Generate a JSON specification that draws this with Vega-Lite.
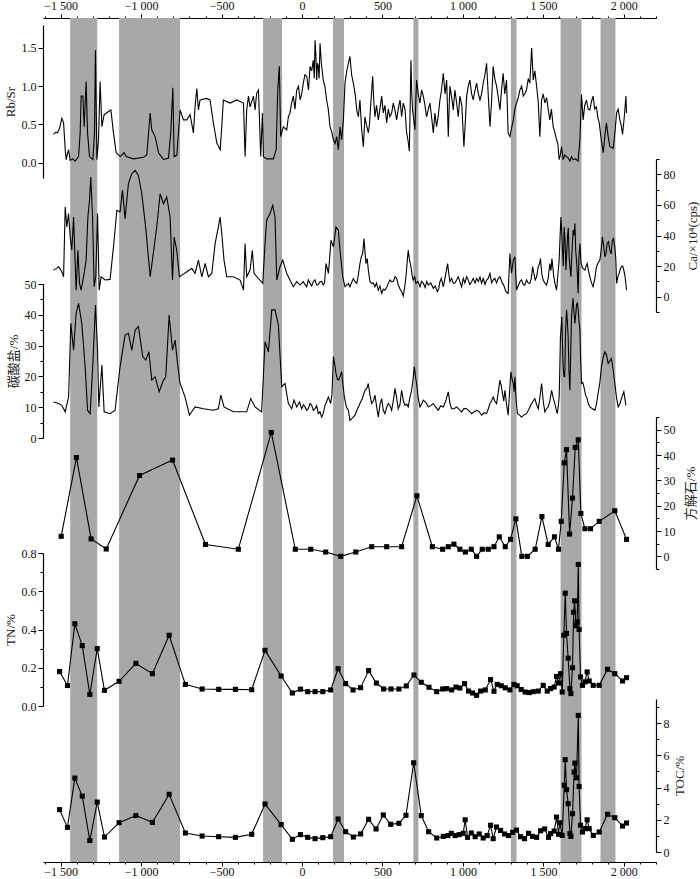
{
"$schema": "https://vega.github.io/schema/vega-lite/v6.json",
"width": 613, "height": 844,
"autosize": {"type": "none"},
"padding": {"left": 43, "top": 18, "right": 44, "bottom": 17},
"background": "white",
"config": {
 "view": {"stroke": null},
 "axis": {"grid": false, "domainColor": "#000", "domainWidth": 1.2, "tickColor": "#000", "labelColor": "#111", "labelFont": "Liberation Serif", "labelFontSize": 12, "titleFont": "Liberation Serif, Noto Sans CJK SC", "titleFontWeight": "normal", "titleFontSize": 13, "titleColor": "#222", "labelOverlap": false, "labelFlush": false}
},
"datasets": {
 "bands": [{"year":-1441,"end":-1273},{"year":-1137,"end":-758},{"year":-242,"end":-124},{"year":193,"end":261},{"year":692,"end":723},{"year":1298,"end":1333},{"year":1607,"end":1737},{"year":1855,"end":1948}],
 "f": [{"year":-1545,"v":0.37},{"year":-1530,"v":0.4},{"year":-1520,"v":0.39},{"year":-1507,"v":0.45},{"year":-1493,"v":0.58},{"year":-1482,"v":0.52},{"year":-1472,"v":0.17},{"year":-1466,"v":0.04},{"year":-1458,"v":0.12},{"year":-1451,"v":0.17},{"year":-1441,"v":0.03},{"year":-1425,"v":0.05},{"year":-1410,"v":0.02},{"year":-1389,"v":0.08},{"year":-1379,"v":0.39},{"year":-1373,"v":0.87},{"year":-1362,"v":0.87},{"year":-1354,"v":0.47},{"year":-1342,"v":1.06},{"year":-1333,"v":0.39},{"year":-1321,"v":0.08},{"year":-1300,"v":0.04},{"year":-1290,"v":0.39},{"year":-1284,"v":1.47},{"year":-1275,"v":0.04},{"year":-1265,"v":0.3},{"year":-1255,"v":1.06},{"year":-1244,"v":0.47},{"year":-1230,"v":0.63},{"year":-1203,"v":0.67},{"year":-1188,"v":0.69},{"year":-1172,"v":0.39},{"year":-1155,"v":0.13},{"year":-1130,"v":0.08},{"year":-1106,"v":0.13},{"year":-1093,"v":0.08},{"year":-1048,"v":0.05},{"year":-986,"v":0.07},{"year":-965,"v":0.1},{"year":-944,"v":0.65},{"year":-934,"v":0.43},{"year":-913,"v":0.34},{"year":-892,"v":0.13},{"year":-861,"v":0.04},{"year":-830,"v":0.06},{"year":-816,"v":0.39},{"year":-803,"v":0.98},{"year":-795,"v":0.08},{"year":-778,"v":0.1},{"year":-758,"v":0.69},{"year":-737,"v":0.56},{"year":-716,"v":0.56},{"year":-696,"v":0.63},{"year":-675,"v":0.39},{"year":-665,"v":0.73},{"year":-654,"v":0.97},{"year":-644,"v":0.69},{"year":-634,"v":0.82},{"year":-592,"v":0.84},{"year":-572,"v":0.82},{"year":-551,"v":0.52},{"year":-530,"v":0.26},{"year":-509,"v":0.17},{"year":-499,"v":0.47},{"year":-489,"v":0.82},{"year":-447,"v":0.78},{"year":-406,"v":0.82},{"year":-364,"v":0.78},{"year":-354,"v":0.08},{"year":-344,"v":0.69},{"year":-333,"v":0.87},{"year":-323,"v":0.73},{"year":-302,"v":0.87},{"year":-292,"v":0.69},{"year":-282,"v":0.91},{"year":-271,"v":0.95},{"year":-265,"v":0.6},{"year":-257,"v":0.08},{"year":-246,"v":0.65},{"year":-240,"v":0.08},{"year":-219,"v":0.05},{"year":-178,"v":0.05},{"year":-161,"v":0.17},{"year":-151,"v":0.95},{"year":-141,"v":1.26},{"year":-133,"v":0.34},{"year":-116,"v":0.47},{"year":-95,"v":0.43},{"year":-75,"v":0.65},{"year":-54,"v":0.87},{"year":-33,"v":0.95},{"year":-12,"v":0.82},{"year":8,"v":1.04},{"year":29,"v":1.13},{"year":50,"v":1.26},{"year":70,"v":1.34},{"year":81,"v":1.6},{"year":91,"v":1.08},{"year":101,"v":1.26},{"year":112,"v":1.56},{"year":132,"v":1.08},{"year":153,"v":0.82},{"year":174,"v":0.47},{"year":195,"v":0.3},{"year":215,"v":0.34},{"year":226,"v":0.17},{"year":236,"v":0.47},{"year":257,"v":0.56},{"year":267,"v":1.04},{"year":288,"v":1.3},{"year":298,"v":1.39},{"year":319,"v":1.04},{"year":340,"v":0.69},{"year":360,"v":0.82},{"year":381,"v":0.21},{"year":391,"v":0.6},{"year":412,"v":0.39},{"year":426,"v":0.73},{"year":439,"v":1.13},{"year":453,"v":0.6},{"year":474,"v":0.56},{"year":495,"v":0.87},{"year":505,"v":0.65},{"year":526,"v":0.52},{"year":546,"v":0.6},{"year":567,"v":0.78},{"year":588,"v":0.56},{"year":609,"v":0.82},{"year":629,"v":0.78},{"year":650,"v":0.39},{"year":667,"v":0.15},{"year":677,"v":1.34},{"year":687,"v":0.69},{"year":702,"v":0.43},{"year":712,"v":1.08},{"year":733,"v":0.78},{"year":754,"v":0.87},{"year":774,"v":0.6},{"year":795,"v":0.78},{"year":816,"v":0.39},{"year":836,"v":0.47},{"year":857,"v":0.82},{"year":878,"v":1.17},{"year":899,"v":1.08},{"year":909,"v":0.34},{"year":919,"v":1.0},{"year":940,"v":0.69},{"year":961,"v":0.78},{"year":981,"v":0.87},{"year":1006,"v":0.21},{"year":1023,"v":0.87},{"year":1043,"v":1.08},{"year":1064,"v":0.82},{"year":1085,"v":1.04},{"year":1106,"v":0.82},{"year":1126,"v":1.04},{"year":1147,"v":1.3},{"year":1168,"v":0.47},{"year":1188,"v":1.26},{"year":1209,"v":1.0},{"year":1230,"v":0.69},{"year":1250,"v":1.17},{"year":1271,"v":1.08},{"year":1281,"v":0.39},{"year":1292,"v":0.34},{"year":1313,"v":0.56},{"year":1333,"v":0.78},{"year":1354,"v":0.95},{"year":1375,"v":0.87},{"year":1395,"v":0.95},{"year":1416,"v":1.04},{"year":1427,"v":1.5},{"year":1437,"v":1.08},{"year":1458,"v":1.0},{"year":1478,"v":0.34},{"year":1489,"v":0.82},{"year":1509,"v":0.78},{"year":1540,"v":0.56},{"year":1561,"v":0.47},{"year":1582,"v":0.3},{"year":1598,"v":0.04},{"year":1613,"v":0.21},{"year":1623,"v":0.04},{"year":1644,"v":0.08},{"year":1665,"v":0.02},{"year":1685,"v":0.04},{"year":1716,"v":0.02},{"year":1727,"v":0.3},{"year":1737,"v":0.89},{"year":1747,"v":0.56},{"year":1768,"v":0.82},{"year":1789,"v":0.69},{"year":1809,"v":0.87},{"year":1830,"v":0.73},{"year":1847,"v":0.52},{"year":1872,"v":0.13},{"year":1892,"v":0.52},{"year":1913,"v":0.21},{"year":1934,"v":0.19},{"year":1955,"v":0.65},{"year":1975,"v":0.56},{"year":1992,"v":0.37},{"year":2013,"v":0.87},{"year":2017,"v":0.65},
 {"year":-85,"v":0.6},{"year":-65,"v":0.78},{"year":-44,"v":0.7},{"year":-22,"v":1.0},{"year":-2,"v":0.9},{"year":18,"v":1.15},{"year":40,"v":0.95},{"year":60,"v":1.2},{"year":76,"v":1.1},{"year":86,"v":1.4},{"year":96,"v":1.3},{"year":106,"v":1.1},{"year":120,"v":1.3},{"year":142,"v":1.0},{"year":163,"v":0.7},{"year":185,"v":0.4},{"year":205,"v":0.25},{"year":246,"v":0.3},{"year":278,"v":1.2},{"year":308,"v":1.15},{"year":330,"v":0.9},{"year":350,"v":0.6},{"year":370,"v":0.45},{"year":400,"v":0.5},{"year":419,"v":0.5},{"year":446,"v":0.8},{"year":463,"v":0.75},{"year":484,"v":0.7},{"year":515,"v":0.75},{"year":536,"v":0.7},{"year":557,"v":0.65},{"year":578,"v":0.68},{"year":598,"v":0.7},{"year":619,"v":0.6},{"year":640,"v":0.7},{"year":658,"v":0.3},{"year":682,"v":0.9},{"year":695,"v":0.55},{"year":707,"v":0.8},{"year":722,"v":0.9},{"year":743,"v":0.95},{"year":764,"v":0.75},{"year":785,"v":0.7},{"year":805,"v":0.6},{"year":826,"v":0.65},{"year":846,"v":0.6},{"year":867,"v":0.95},{"year":889,"v":0.9},{"year":914,"v":0.7},{"year":930,"v":0.85},{"year":950,"v":0.95},{"year":971,"v":0.6},{"year":993,"v":0.75},{"year":1014,"v":0.5},{"year":1033,"v":1.0},{"year":1054,"v":0.9},{"year":1075,"v":0.95},{"year":1096,"v":0.9},{"year":1116,"v":0.9},{"year":1137,"v":1.15},{"year":1157,"v":0.9},{"year":1178,"v":0.8},{"year":1198,"v":1.1},{"year":1220,"v":0.85},{"year":1240,"v":0.95},{"year":1260,"v":0.9},{"year":1302,"v":0.45},{"year":1323,"v":0.7},{"year":1344,"v":0.85},{"year":1365,"v":1.0},{"year":1385,"v":0.9},{"year":1406,"v":1.1},{"year":1447,"v":1.2},{"year":1468,"v":0.8},{"year":1499,"v":0.9},{"year":1520,"v":0.85},{"year":1530,"v":0.7},{"year":1550,"v":0.7},{"year":1571,"v":0.4},{"year":1590,"v":0.25},{"year":1605,"v":0.1},{"year":1632,"v":0.1},{"year":1655,"v":0.06},{"year":1675,"v":0.08},{"year":1700,"v":0.05},{"year":1757,"v":0.75},{"year":1778,"v":0.7},{"year":1799,"v":0.8},{"year":1819,"v":0.7},{"year":1838,"v":0.6},{"year":1860,"v":0.3},{"year":1882,"v":0.35},{"year":1902,"v":0.35},{"year":1924,"v":0.2},{"year":1945,"v":0.4},{"year":1965,"v":0.7},{"year":1983,"v":0.5},{"year":2003,"v":0.6}],
 "e": [{"year":-1545,"v":17.4},{"year":-1524,"v":18.5},{"year":-1513,"v":19.6},{"year":-1493,"v":16.3},{"year":-1482,"v":13.0},{"year":-1472,"v":58.6},{"year":-1462,"v":45.6},{"year":-1451,"v":54.3},{"year":-1441,"v":39.1},{"year":-1431,"v":30.4},{"year":-1420,"v":52.1},{"year":-1404,"v":4.3},{"year":-1393,"v":30.4},{"year":-1383,"v":8.7},{"year":-1373,"v":4.3},{"year":-1358,"v":13.0},{"year":-1342,"v":23.9},{"year":-1331,"v":52.1},{"year":-1321,"v":63.0},{"year":-1313,"v":78.2},{"year":-1302,"v":52.1},{"year":-1292,"v":6.5},{"year":-1282,"v":13.0},{"year":-1271,"v":54.3},{"year":-1261,"v":4.3},{"year":-1249,"v":13.0},{"year":-1224,"v":10.9},{"year":-1193,"v":11.3},{"year":-1172,"v":32.6},{"year":-1151,"v":56.5},{"year":-1131,"v":55.4},{"year":-1116,"v":69.5},{"year":-1100,"v":51.0},{"year":-1079,"v":73.9},{"year":-1058,"v":80.4},{"year":-1037,"v":82.5},{"year":-1017,"v":79.3},{"year":-996,"v":67.3},{"year":-971,"v":44.5},{"year":-944,"v":13.0},{"year":-919,"v":32.6},{"year":-903,"v":45.6},{"year":-882,"v":67.3},{"year":-861,"v":60.8},{"year":-841,"v":65.2},{"year":-820,"v":52.1},{"year":-805,"v":10.9},{"year":-795,"v":39.1},{"year":-779,"v":30.4},{"year":-762,"v":13.0},{"year":-747,"v":14.1},{"year":-716,"v":16.3},{"year":-685,"v":18.5},{"year":-665,"v":15.2},{"year":-644,"v":23.9},{"year":-623,"v":13.0},{"year":-602,"v":21.7},{"year":-582,"v":13.0},{"year":-561,"v":15.2},{"year":-540,"v":34.8},{"year":-520,"v":45.6},{"year":-509,"v":52.1},{"year":-499,"v":41.3},{"year":-485,"v":23.9},{"year":-468,"v":13.0},{"year":-427,"v":13.0},{"year":-385,"v":10.9},{"year":-364,"v":4.3},{"year":-354,"v":34.8},{"year":-344,"v":13.0},{"year":-323,"v":17.4},{"year":-309,"v":30.4},{"year":-298,"v":15.2},{"year":-271,"v":11.9},{"year":-244,"v":8.7},{"year":-230,"v":34.8},{"year":-220,"v":50.0},{"year":-199,"v":54.3},{"year":-182,"v":59.7},{"year":-168,"v":52.1},{"year":-157,"v":10.9},{"year":-137,"v":19.6},{"year":-120,"v":23.9},{"year":-95,"v":15.2},{"year":-75,"v":10.9},{"year":-54,"v":6.5},{"year":-33,"v":9.8},{"year":-12,"v":7.6},{"year":8,"v":9.8},{"year":29,"v":6.5},{"year":50,"v":8.7},{"year":70,"v":9.8},{"year":91,"v":7.6},{"year":112,"v":9.8},{"year":132,"v":7.6},{"year":149,"v":21.7},{"year":164,"v":15.2},{"year":180,"v":36.9},{"year":195,"v":32.6},{"year":211,"v":45.6},{"year":226,"v":43.5},{"year":236,"v":30.4},{"year":253,"v":13.0},{"year":267,"v":6.5},{"year":288,"v":8.7},{"year":298,"v":6.5},{"year":319,"v":11.9},{"year":340,"v":8.7},{"year":360,"v":21.7},{"year":377,"v":28.2},{"year":385,"v":38.0},{"year":397,"v":21.7},{"year":412,"v":17.4},{"year":433,"v":8.7},{"year":453,"v":6.5},{"year":474,"v":4.3},{"year":495,"v":2.2},{"year":515,"v":4.3},{"year":536,"v":8.7},{"year":557,"v":9.8},{"year":578,"v":13.0},{"year":598,"v":7.6},{"year":619,"v":3.3},{"year":629,"v":0.5},{"year":646,"v":13.0},{"year":660,"v":30.4},{"year":677,"v":19.6},{"year":691,"v":10.9},{"year":708,"v":8.7},{"year":733,"v":6.5},{"year":754,"v":8.7},{"year":785,"v":7.6},{"year":816,"v":5.4},{"year":841,"v":3.3},{"year":857,"v":9.8},{"year":878,"v":6.5},{"year":905,"v":21.7},{"year":919,"v":9.8},{"year":940,"v":8.7},{"year":961,"v":10.9},{"year":992,"v":6.5},{"year":1023,"v":13.0},{"year":1054,"v":9.8},{"year":1085,"v":11.9},{"year":1116,"v":8.7},{"year":1147,"v":10.9},{"year":1168,"v":15.2},{"year":1188,"v":10.9},{"year":1219,"v":11.9},{"year":1246,"v":8.7},{"year":1267,"v":3.3},{"year":1281,"v":2.2},{"year":1292,"v":28.2},{"year":1302,"v":15.2},{"year":1313,"v":23.9},{"year":1323,"v":26.1},{"year":1333,"v":4.3},{"year":1354,"v":9.8},{"year":1385,"v":7.6},{"year":1416,"v":8.7},{"year":1433,"v":19.6},{"year":1449,"v":10.9},{"year":1468,"v":19.6},{"year":1482,"v":25.0},{"year":1499,"v":10.9},{"year":1520,"v":7.6},{"year":1540,"v":21.7},{"year":1553,"v":25.0},{"year":1565,"v":13.0},{"year":1582,"v":4.3},{"year":1598,"v":23.9},{"year":1609,"v":52.1},{"year":1619,"v":30.4},{"year":1629,"v":45.6},{"year":1640,"v":17.4},{"year":1650,"v":39.1},{"year":1660,"v":26.1},{"year":1671,"v":13.0},{"year":1685,"v":43.5},{"year":1696,"v":47.8},{"year":1706,"v":23.9},{"year":1716,"v":2.2},{"year":1727,"v":34.8},{"year":1741,"v":19.6},{"year":1758,"v":17.4},{"year":1772,"v":21.7},{"year":1789,"v":13.0},{"year":1809,"v":6.5},{"year":1830,"v":19.6},{"year":1851,"v":23.9},{"year":1867,"v":39.1},{"year":1882,"v":26.1},{"year":1896,"v":34.8},{"year":1913,"v":30.4},{"year":1929,"v":36.9},{"year":1944,"v":32.6},{"year":1955,"v":8.7},{"year":1971,"v":15.2},{"year":1985,"v":19.6},{"year":2000,"v":17.4},{"year":2008,"v":13.0},{"year":2017,"v":4.3},
 {"year":18,"v":8},{"year":39,"v":11},{"year":60,"v":7},{"year":80,"v":11},{"year":101,"v":8},{"year":122,"v":10},{"year":140,"v":9},{"year":307,"v":9},{"year":329,"v":10},{"year":350,"v":14},{"year":368,"v":26},{"year":405,"v":25},{"year":422,"v":10},{"year":443,"v":9},{"year":463,"v":9},{"year":484,"v":7},{"year":505,"v":5},{"year":526,"v":6},{"year":546,"v":11},{"year":567,"v":10},{"year":588,"v":12},{"year":609,"v":5},{"year":638,"v":6},{"year":653,"v":22},{"year":668,"v":24},{"year":684,"v":14},{"year":700,"v":13},{"year":720,"v":10},{"year":743,"v":10},{"year":765,"v":6},{"year":775,"v":10},{"year":800,"v":9},{"year":828,"v":7},{"year":849,"v":5},{"year":866,"v":12},{"year":890,"v":13},{"year":912,"v":15},{"year":930,"v":12},{"year":950,"v":9},{"year":971,"v":13},{"year":1002,"v":12},{"year":1012,"v":9},{"year":1033,"v":11},{"year":1043,"v":8},{"year":1064,"v":12},{"year":1075,"v":9},{"year":1096,"v":10},{"year":1106,"v":13},{"year":1126,"v":12},{"year":1137,"v":8},{"year":1157,"v":12},{"year":1178,"v":9},{"year":1198,"v":12},{"year":1209,"v":9},{"year":1230,"v":13},{"year":1256,"v":7},{"year":1343,"v":7},{"year":1364,"v":11},{"year":1375,"v":8},{"year":1395,"v":11},{"year":1406,"v":9},{"year":1425,"v":12},{"year":1441,"v":15},{"year":1458,"v":13},{"year":1475,"v":21},{"year":1490,"v":15},{"year":1509,"v":9},{"year":1530,"v":12},{"year":1547,"v":17},{"year":1559,"v":19},{"year":1573,"v":8},{"year":1590,"v":14},{"year":1604,"v":40},{"year":1614,"v":42},{"year":1624,"v":20},{"year":1635,"v":36},{"year":1645,"v":28},{"year":1655,"v":45},{"year":1665,"v":20},{"year":1678,"v":30},{"year":1690,"v":40},{"year":1701,"v":30},{"year":1711,"v":15},{"year":1721,"v":25},{"year":1734,"v":22},{"year":1749,"v":18},{"year":1765,"v":20},{"year":1780,"v":17},{"year":1799,"v":9},{"year":1820,"v":12},{"year":1840,"v":22},{"year":1859,"v":30},{"year":1875,"v":33},{"year":1889,"v":28},{"year":1905,"v":36},{"year":1921,"v":28},{"year":1936,"v":38},{"year":1950,"v":25},{"year":1963,"v":13},{"year":1978,"v":18},{"year":1993,"v":20}],
 "d": [{"year":-1545,"v":11.7},{"year":-1513,"v":11.2},{"year":-1493,"v":10.6},{"year":-1472,"v":8.5},{"year":-1451,"v":13.3},{"year":-1437,"v":37.2},{"year":-1420,"v":28.5},{"year":-1404,"v":40.5},{"year":-1389,"v":43.7},{"year":-1369,"v":37.2},{"year":-1348,"v":23.1},{"year":-1333,"v":9.0},{"year":-1317,"v":7.9},{"year":-1300,"v":24.2},{"year":-1284,"v":43.2},{"year":-1271,"v":28.5},{"year":-1263,"v":10.1},{"year":-1244,"v":23.7},{"year":-1230,"v":8.5},{"year":-1193,"v":7.9},{"year":-1162,"v":9.0},{"year":-1131,"v":23.1},{"year":-1100,"v":33.4},{"year":-1079,"v":34.0},{"year":-1058,"v":28.5},{"year":-1037,"v":35.1},{"year":-1017,"v":36.2},{"year":-990,"v":26.4},{"year":-971,"v":25.3},{"year":-952,"v":28.0},{"year":-934,"v":18.8},{"year":-913,"v":19.9},{"year":-888,"v":15.0},{"year":-861,"v":18.8},{"year":-847,"v":19.9},{"year":-826,"v":39.9},{"year":-805,"v":28.5},{"year":-789,"v":31.8},{"year":-774,"v":24.2},{"year":-758,"v":17.7},{"year":-727,"v":13.3},{"year":-700,"v":7.4},{"year":-665,"v":10.1},{"year":-613,"v":9.5},{"year":-551,"v":9.0},{"year":-520,"v":9.5},{"year":-505,"v":13.9},{"year":-485,"v":10.1},{"year":-427,"v":8.5},{"year":-344,"v":8.5},{"year":-319,"v":12.8},{"year":-292,"v":10.1},{"year":-251,"v":8.5},{"year":-230,"v":31.3},{"year":-209,"v":28.0},{"year":-188,"v":41.6},{"year":-168,"v":41.6},{"year":-147,"v":36.7},{"year":-126,"v":16.6},{"year":-106,"v":17.7},{"year":-85,"v":11.2},{"year":-64,"v":9.5},{"year":-50,"v":12.3},{"year":-33,"v":10.1},{"year":-16,"v":11.7},{"year":-2,"v":9.5},{"year":19,"v":10.1},{"year":39,"v":9.5},{"year":60,"v":10.6},{"year":81,"v":9.5},{"year":101,"v":7.9},{"year":122,"v":6.8},{"year":143,"v":10.6},{"year":164,"v":13.3},{"year":178,"v":11.2},{"year":195,"v":26.4},{"year":211,"v":21.0},{"year":228,"v":18.8},{"year":246,"v":21.5},{"year":263,"v":13.3},{"year":288,"v":9.0},{"year":298,"v":5.7},{"year":329,"v":7.4},{"year":360,"v":11.2},{"year":391,"v":15.5},{"year":412,"v":17.7},{"year":433,"v":11.2},{"year":453,"v":13.9},{"year":474,"v":6.8},{"year":495,"v":12.8},{"year":515,"v":7.9},{"year":536,"v":11.2},{"year":557,"v":9.0},{"year":578,"v":16.1},{"year":598,"v":9.5},{"year":619,"v":15.5},{"year":640,"v":10.6},{"year":660,"v":10.1},{"year":681,"v":15.5},{"year":698,"v":23.1},{"year":712,"v":17.7},{"year":733,"v":10.1},{"year":754,"v":12.3},{"year":785,"v":10.1},{"year":816,"v":11.2},{"year":847,"v":9.0},{"year":878,"v":10.1},{"year":909,"v":15.0},{"year":930,"v":9.5},{"year":961,"v":10.1},{"year":992,"v":8.5},{"year":1023,"v":9.5},{"year":1054,"v":7.9},{"year":1085,"v":9.0},{"year":1116,"v":7.4},{"year":1147,"v":7.9},{"year":1168,"v":11.2},{"year":1188,"v":13.3},{"year":1209,"v":11.2},{"year":1230,"v":18.8},{"year":1246,"v":14.4},{"year":1261,"v":15.5},{"year":1281,"v":7.4},{"year":1298,"v":21.5},{"year":1313,"v":17.7},{"year":1323,"v":19.9},{"year":1339,"v":7.9},{"year":1364,"v":6.8},{"year":1395,"v":7.9},{"year":1427,"v":11.2},{"year":1447,"v":12.8},{"year":1468,"v":9.5},{"year":1489,"v":17.7},{"year":1509,"v":8.5},{"year":1530,"v":10.1},{"year":1551,"v":15.5},{"year":1571,"v":11.2},{"year":1586,"v":7.9},{"year":1598,"v":13.3},{"year":1606,"v":32.9},{"year":1615,"v":39.4},{"year":1623,"v":23.1},{"year":1633,"v":19.9},{"year":1644,"v":41.6},{"year":1654,"v":32.9},{"year":1665,"v":15.5},{"year":1675,"v":39.4},{"year":1685,"v":45.4},{"year":1696,"v":37.2},{"year":1706,"v":43.2},{"year":1716,"v":41.6},{"year":1727,"v":35.1},{"year":1737,"v":17.7},{"year":1752,"v":16.6},{"year":1772,"v":12.8},{"year":1789,"v":10.1},{"year":1820,"v":9.0},{"year":1840,"v":14.4},{"year":1861,"v":23.1},{"year":1882,"v":28.0},{"year":1903,"v":24.2},{"year":1923,"v":25.8},{"year":1944,"v":17.7},{"year":1965,"v":10.1},{"year":1985,"v":12.8},{"year":2000,"v":15.0},{"year":2013,"v":10.6},
 {"year":9,"v":10.8},{"year":29,"v":9.0},{"year":50,"v":11.2},{"year":70,"v":9.0},{"year":91,"v":10.5},{"year":111,"v":8.5},{"year":132,"v":8.0},{"year":154,"v":12.0},{"year":186,"v":14},{"year":203,"v":24},{"year":220,"v":19},{"year":237,"v":20},{"year":255,"v":17},{"year":276,"v":10},{"year":314,"v":6.5},{"year":345,"v":9.5},{"year":376,"v":13},{"year":402,"v":16},{"year":422,"v":14},{"year":443,"v":12},{"year":464,"v":10},{"year":485,"v":11},{"year":505,"v":9},{"year":526,"v":10},{"year":547,"v":10.5},{"year":567,"v":12},{"year":588,"v":13},{"year":609,"v":11},{"year":630,"v":12},{"year":650,"v":11},{"year":670,"v":13},{"year":690,"v":19},{"year":705,"v":20},{"year":722,"v":13},{"year":743,"v":11},{"year":770,"v":11.5},{"year":800,"v":10.5},{"year":831,"v":10},{"year":862,"v":10.5},{"year":893,"v":12},{"year":920,"v":11},{"year":945,"v":9.5},{"year":976,"v":9.3},{"year":1007,"v":9.6},{"year":1038,"v":8.8},{"year":1070,"v":8.5},{"year":1100,"v":8.6},{"year":1131,"v":8.2},{"year":1158,"v":9.5},{"year":1178,"v":12},{"year":1198,"v":12},{"year":1220,"v":15},{"year":1238,"v":17},{"year":1254,"v":12},{"year":1271,"v":11},{"year":1290,"v":15},{"year":1306,"v":19},{"year":1318,"v":15},{"year":1331,"v":12},{"year":1351,"v":7.5},{"year":1380,"v":7.5},{"year":1411,"v":9.5},{"year":1437,"v":12},{"year":1457,"v":11},{"year":1478,"v":13},{"year":1499,"v":12},{"year":1520,"v":9.5},{"year":1540,"v":12},{"year":1561,"v":13},{"year":1578,"v":9.5},{"year":1592,"v":10},{"year":1602,"v":22},{"year":1611,"v":36},{"year":1619,"v":30},{"year":1628,"v":20},{"year":1638,"v":35},{"year":1649,"v":38},{"year":1659,"v":22},{"year":1670,"v":28},{"year":1680,"v":43},{"year":1690,"v":41},{"year":1701,"v":40},{"year":1711,"v":44},{"year":1721,"v":38},{"year":1732,"v":25},{"year":1745,"v":18},{"year":1762,"v":14},{"year":1780,"v":11},{"year":1805,"v":9.5},{"year":1830,"v":11},{"year":1851,"v":18},{"year":1871,"v":26},{"year":1892,"v":27},{"year":1913,"v":25},{"year":1934,"v":22},{"year":1955,"v":13},{"year":1975,"v":11},{"year":1993,"v":14},{"year":2006,"v":13}],
 "c": [{"year":-1497,"v":7.9},{"year":-1402,"v":39},{"year":-1311,"v":6.9},{"year":-1217,"v":2.9},{"year":-1010,"v":31.9},{"year":-805,"v":38},{"year":-600,"v":4.7},{"year":-396,"v":2.8},{"year":-191,"v":48.9},{"year":-42,"v":2.8},{"year":54,"v":2.8},{"year":147,"v":1.7},{"year":240,"v":0},{"year":334,"v":1.7},{"year":433,"v":3.8},{"year":526,"v":3.8},{"year":619,"v":3.8},{"year":714,"v":23.9},{"year":810,"v":3.8},{"year":874,"v":2.8},{"year":909,"v":3.8},{"year":944,"v":4.8},{"year":981,"v":2.8},{"year":1015,"v":1.7},{"year":1052,"v":2.8},{"year":1085,"v":0},{"year":1120,"v":2.8},{"year":1157,"v":2.8},{"year":1193,"v":3.8},{"year":1226,"v":7.7},{"year":1263,"v":3.8},{"year":1296,"v":6.7},{"year":1329,"v":14.8},{"year":1366,"v":0},{"year":1401,"v":0},{"year":1449,"v":2.8},{"year":1491,"v":15.7},{"year":1530,"v":4.7},{"year":1569,"v":7.7},{"year":1594,"v":2.8},{"year":1611,"v":13.8},{"year":1630,"v":36.9},{"year":1644,"v":42.1},{"year":1663,"v":8.8},{"year":1681,"v":23},{"year":1698,"v":43},{"year":1717,"v":46},{"year":1733,"v":16.9},{"year":1758,"v":10.9},{"year":1793,"v":10.9},{"year":1847,"v":13.8},{"year":1944,"v":18},{"year":2017,"v":6.7}],
 "tn": [{"year":-1507,"v":0.18},{"year":-1458,"v":0.107},{"year":-1412,"v":0.43},{"year":-1366,"v":0.316},{"year":-1319,"v":0.061},{"year":-1273,"v":0.3},{"year":-1228,"v":0.082},{"year":-1137,"v":0.129},{"year":-1033,"v":0.223},{"year":-930,"v":0.169},{"year":-826,"v":0.37},{"year":-725,"v":0.113},{"year":-621,"v":0.089},{"year":-518,"v":0.087},{"year":-414,"v":0.087},{"year":-313,"v":0.085},{"year":-230,"v":0.291},{"year":-130,"v":0.157},{"year":-60,"v":0.068},{"year":-10,"v":0.088},{"year":35,"v":0.075},{"year":81,"v":0.075},{"year":129,"v":0.075},{"year":178,"v":0.084},{"year":224,"v":0.195},{"year":271,"v":0.117},{"year":317,"v":0.084},{"year":364,"v":0.096},{"year":414,"v":0.185},{"year":462,"v":0.12},{"year":507,"v":0.089},{"year":553,"v":0.089},{"year":602,"v":0.089},{"year":648,"v":0.105},{"year":696,"v":0.162},{"year":741,"v":0.124},{"year":789,"v":0.098},{"year":837,"v":0.075},{"year":874,"v":0.089},{"year":899,"v":0.091},{"year":930,"v":0.084},{"year":957,"v":0.099},{"year":981,"v":0.094},{"year":1010,"v":0.117},{"year":1035,"v":0.078},{"year":1060,"v":0.068},{"year":1085,"v":0.056},{"year":1110,"v":0.078},{"year":1139,"v":0.084},{"year":1172,"v":0.138},{"year":1193,"v":0.077},{"year":1213,"v":0.113},{"year":1238,"v":0.106},{"year":1263,"v":0.095},{"year":1292,"v":0.084},{"year":1317,"v":0.113},{"year":1337,"v":0.106},{"year":1362,"v":0.086},{"year":1387,"v":0.073},{"year":1412,"v":0.07},{"year":1437,"v":0.075},{"year":1468,"v":0.078},{"year":1499,"v":0.108},{"year":1524,"v":0.078},{"year":1545,"v":0.091},{"year":1567,"v":0.099},{"year":1582,"v":0.155},{"year":1594,"v":0.12},{"year":1607,"v":0.169},{"year":1617,"v":0.073},{"year":1627,"v":0.37},{"year":1636,"v":0.59},{"year":1644,"v":0.38},{"year":1654,"v":0.25},{"year":1665,"v":0.091},{"year":1671,"v":0.065},{"year":1681,"v":0.2},{"year":1688,"v":0.49},{"year":1694,"v":0.55},{"year":1702,"v":0.42},{"year":1710,"v":0.44},{"year":1717,"v":0.74},{"year":1722,"v":0.4},{"year":1731,"v":0.152},{"year":1743,"v":0.108},{"year":1758,"v":0.126},{"year":1772,"v":0.178},{"year":1785,"v":0.131},{"year":1810,"v":0.108},{"year":1847,"v":0.108},{"year":1899,"v":0.192},{"year":1944,"v":0.169},{"year":1992,"v":0.131},{"year":2017,"v":0.148}],
 "toc": [{"year":-1507,"v":2.63},{"year":-1458,"v":1.53},{"year":-1412,"v":4.59},{"year":-1366,"v":3.47},{"year":-1319,"v":0.71},{"year":-1273,"v":3.1},{"year":-1228,"v":0.93},{"year":-1137,"v":1.82},{"year":-1033,"v":2.26},{"year":-930,"v":1.84},{"year":-826,"v":3.58},{"year":-725,"v":1.18},{"year":-621,"v":0.99},{"year":-518,"v":0.95},{"year":-414,"v":0.91},{"year":-313,"v":1.1},{"year":-230,"v":2.98},{"year":-130,"v":1.7},{"year":-60,"v":0.79},{"year":-10,"v":1.08},{"year":35,"v":0.91},{"year":81,"v":0.83},{"year":129,"v":0.89},{"year":178,"v":0.95},{"year":224,"v":2.05},{"year":271,"v":1.26},{"year":319,"v":0.93},{"year":364,"v":1.12},{"year":414,"v":2.03},{"year":460,"v":1.43},{"year":505,"v":2.3},{"year":551,"v":1.72},{"year":602,"v":1.78},{"year":646,"v":2.28},{"year":694,"v":5.54},{"year":741,"v":2.26},{"year":787,"v":1.26},{"year":837,"v":0.87},{"year":878,"v":0.97},{"year":907,"v":1.02},{"year":928,"v":1.16},{"year":952,"v":1.02},{"year":977,"v":1.08},{"year":1002,"v":1.16},{"year":1014,"v":2.0},{"year":1029,"v":0.91},{"year":1052,"v":1.18},{"year":1076,"v":0.95},{"year":1101,"v":1.12},{"year":1126,"v":0.87},{"year":1151,"v":1.02},{"year":1172,"v":1.66},{"year":1188,"v":0.83},{"year":1209,"v":1.55},{"year":1234,"v":1.34},{"year":1259,"v":1.12},{"year":1284,"v":1.02},{"year":1309,"v":1.22},{"year":1333,"v":1.36},{"year":1358,"v":0.95},{"year":1383,"v":0.83},{"year":1408,"v":1.16},{"year":1433,"v":0.97},{"year":1458,"v":0.91},{"year":1483,"v":1.32},{"year":1508,"v":1.43},{"year":1532,"v":0.91},{"year":1545,"v":1.14},{"year":1567,"v":1.3},{"year":1582,"v":2.17},{"year":1594,"v":1.1},{"year":1602,"v":1.82},{"year":1617,"v":1.03},{"year":1630,"v":4.14},{"year":1636,"v":5.73},{"year":1644,"v":3.87},{"year":1654,"v":3.0},{"year":1665,"v":1.14},{"year":1671,"v":0.97},{"year":1681,"v":2.38},{"year":1691,"v":4.96},{"year":1696,"v":5.52},{"year":1706,"v":4.61},{"year":1717,"v":8.48},{"year":1722,"v":4.07},{"year":1731,"v":1.66},{"year":1743,"v":1.24},{"year":1758,"v":1.45},{"year":1772,"v":2.0},{"year":1785,"v":1.45},{"year":1810,"v":1.03},{"year":1847,"v":1.24},{"year":1899,"v":2.34},{"year":1944,"v":2.13},{"year":1992,"v":1.61},{"year":2017,"v":1.8}]
},
"resolve": {"scale": {"y": "independent"}, "axis": {"y": "independent", "x": "independent"}},
"layer": [
 {"data": {"name": "bands"}, "mark": {"type": "rect", "color": "#a8a8a8"},
  "encoding": {
   "x": {"field": "year", "type": "quantitative", "scale": {"domain": [-1610, 2200], "nice": false, "zero": false},
    "axis": {"orient": "bottom", "title": null, "values": [-1600,-1500,-1400,-1300,-1200,-1100,-1000,-900,-800,-700,-600,-500,-400,-300,-200,-100,0,100,200,300,400,500,600,700,800,900,1000,1100,1200,1300,1400,1500,1600,1700,1800,1900,2000,2100,2200],
     "labelExpr": "datum.value % 500 === 0 ? replace(format(datum.value, ','), ',', ' ') : ''",
     "tickSize": {"condition": {"test": "datum.value % 500 === 0", "value": 4}, "value": 2}, "labelPadding": 0}},
   "x2": {"field": "end"}}},
 {"data": {"name": "f"}, "mark": {"type": "line", "color": "#000", "strokeWidth": 1.1},
  "encoding": {
   "x": {"field": "year", "type": "quantitative", "scale": {"domain": [-1610, 2200], "nice": false, "zero": false},
    "axis": {"orient": "top", "title": null, "values": [-1600,-1500,-1400,-1300,-1200,-1100,-1000,-900,-800,-700,-600,-500,-400,-300,-200,-100,0,100,200,300,400,500,600,700,800,900,1000,1100,1200,1300,1400,1500,1600,1700,1800,1900,2000,2100,2200],
     "labelExpr": "datum.value % 500 === 0 ? replace(format(datum.value, ','), ',', ' ') : ''",
     "tickSize": {"condition": {"test": "datum.value % 500 === 0", "value": 4}, "value": 2}, "labelPadding": 2}},
   "y": {"field": "v", "type": "quantitative", "scale": {"domain": [-0.2, 1.8], "range": [160, 7], "nice": false, "zero": false},
    "axis": {"orient": "left", "title": "Rb/Sr", "values": [0, 0.5, 1, 1.5], "format": ".1f", "tickSize": 5}}}},
 {"data": {"name": "e"}, "mark": {"type": "line", "color": "#000", "strokeWidth": 1.1},
  "encoding": {
   "x": {"field": "year", "type": "quantitative", "scale": {"domain": [-1610, 2200], "nice": false, "zero": false}, "axis": null},
   "y": {"field": "v", "type": "quantitative", "scale": {"domain": [-10, 90], "range": [294, 141], "nice": false, "zero": false},
    "axis": {"orient": "right", "title": "Ca/×10⁴(cps)", "titleAngle": -90, "titlePadding": 24, "values": [-10,0,10,20,30,40,50,60,70,80,90],
     "labelExpr": "datum.value % 20 === 0 ? datum.label : ''",
     "tickSize": {"condition": {"test": "datum.value % 20 === 0", "value": 5}, "value": 3}}}}},
 {"data": {"name": "d"}, "mark": {"type": "line", "color": "#000", "strokeWidth": 1.1},
  "encoding": {
   "x": {"field": "year", "type": "quantitative", "scale": {"domain": [-1610, 2200], "nice": false, "zero": false}, "axis": null},
   "y": {"field": "v", "type": "quantitative", "scale": {"domain": [0, 50], "range": [420, 266], "nice": false, "zero": false},
    "axis": {"orient": "left", "title": "碳酸盐/%", "values": [0,5,10,15,20,25,30,35,40,45,50],
     "labelExpr": "datum.value % 10 === 0 ? datum.label : ''",
     "tickSize": {"condition": {"test": "datum.value % 10 === 0", "value": 5}, "value": 3}}}}},
 {"data": {"name": "c"}, "mark": {"type": "line", "color": "#000", "strokeWidth": 1.1, "point": {"shape": "square", "filled": true, "size": 26, "color": "#000"}},
  "encoding": {
   "x": {"field": "year", "type": "quantitative", "scale": {"domain": [-1610, 2200], "nice": false, "zero": false}, "axis": null},
   "y": {"field": "v", "type": "quantitative", "scale": {"domain": [-5, 55], "range": [551, 399], "nice": false, "zero": false},
    "axis": {"orient": "right", "title": "方解石/%", "titleAngle": -90, "titlePadding": 22, "values": [-5,0,5,10,15,20,25,30,35,40,45,50,55],
     "labelExpr": "datum.value % 10 === 0 ? datum.label : ''",
     "tickSize": {"condition": {"test": "datum.value % 10 === 0", "value": 5}, "value": 3}}}}},
 {"data": {"name": "tn"}, "mark": {"type": "line", "color": "#000", "strokeWidth": 1.1, "point": {"shape": "square", "filled": true, "size": 26, "color": "#000"}},
  "encoding": {
   "x": {"field": "year", "type": "quantitative", "scale": {"domain": [-1610, 2200], "nice": false, "zero": false}, "axis": null},
   "y": {"field": "v", "type": "quantitative", "scale": {"domain": [0, 0.8], "range": [688, 535], "nice": false, "zero": false},
    "axis": {"orient": "left", "title": "TN/%", "values": [0,0.1,0.2,0.3,0.4,0.5,0.6,0.7,0.8],
     "labelExpr": "round(datum.value * 10) % 2 === 0 ? format(datum.value, '.1f') : ''",
     "tickSize": {"condition": {"test": "round(datum.value * 10) % 2 === 0", "value": 5}, "value": 3}}}}},
 {"data": {"name": "toc"}, "mark": {"type": "line", "color": "#000", "strokeWidth": 1.1, "point": {"shape": "square", "filled": true, "size": 26, "color": "#000"}},
  "encoding": {
   "x": {"field": "year", "type": "quantitative", "scale": {"domain": [-1610, 2200], "nice": false, "zero": false}, "axis": null},
   "y": {"field": "v", "type": "quantitative", "scale": {"domain": [0, 9.5], "range": [834, 681], "nice": false, "zero": false},
    "axis": {"orient": "right", "title": "TOC/%", "titleAngle": -90, "titlePadding": 17, "values": [0,1,2,3,4,5,6,7,8,9],
     "labelExpr": "datum.value % 2 === 0 ? datum.label : ''",
     "tickSize": {"condition": {"test": "datum.value % 2 === 0", "value": 5}, "value": 3}}}}},
 {"mark": {"type": "text", "font": "Liberation Serif", "fontSize": 13, "color": "#222"},
  "encoding": {"x": {"datum": -1534, "type": "quantitative", "scale": {"domain": [-1610, 2200], "nice": false, "zero": false}, "axis": null},
   "y": {"datum": 1.21, "type": "quantitative", "scale": {"domain": [-0.2, 1.8], "range": [160, 7], "nice": false, "zero": false}, "axis": null},
   "text": {"value": "f"}}},
 {"mark": {"type": "text", "font": "Liberation Serif", "fontSize": 13, "color": "#222"},
  "encoding": {"x": {"datum": -1534, "type": "quantitative", "scale": {"domain": [-1610, 2200], "nice": false, "zero": false}, "axis": null},
   "y": {"datum": 53, "type": "quantitative", "scale": {"domain": [-10, 90], "range": [294, 141], "nice": false, "zero": false}, "axis": null},
   "text": {"value": "e"}}},
 {"mark": {"type": "text", "font": "Liberation Serif", "fontSize": 13, "color": "#222"},
  "encoding": {"x": {"datum": -1534, "type": "quantitative", "scale": {"domain": [-1610, 2200], "nice": false, "zero": false}, "axis": null},
   "y": {"datum": 40, "type": "quantitative", "scale": {"domain": [0, 50], "range": [420, 266], "nice": false, "zero": false}, "axis": null},
   "text": {"value": "d"}}},
 {"mark": {"type": "text", "font": "Liberation Serif", "fontSize": 13, "color": "#222"},
  "encoding": {"x": {"datum": -1522, "type": "quantitative", "scale": {"domain": [-1610, 2200], "nice": false, "zero": false}, "axis": null},
   "y": {"datum": 37, "type": "quantitative", "scale": {"domain": [-5, 55], "range": [551, 399], "nice": false, "zero": false}, "axis": null},
   "text": {"value": "c"}}},
 {"mark": {"type": "text", "font": "Liberation Serif", "fontSize": 13, "color": "#222"},
  "encoding": {"x": {"datum": -1522, "type": "quantitative", "scale": {"domain": [-1610, 2200], "nice": false, "zero": false}, "axis": null},
   "y": {"datum": 0.61, "type": "quantitative", "scale": {"domain": [0, 0.8], "range": [688, 535], "nice": false, "zero": false}, "axis": null},
   "text": {"value": "b"}}},
 {"mark": {"type": "text", "font": "Liberation Serif", "fontSize": 13, "color": "#222"},
  "encoding": {"x": {"datum": -1522, "type": "quantitative", "scale": {"domain": [-1610, 2200], "nice": false, "zero": false}, "axis": null},
   "y": {"datum": 5.56, "type": "quantitative", "scale": {"domain": [0, 9.5], "range": [834, 681], "nice": false, "zero": false}, "axis": null},
   "text": {"value": "a"}}}
]
}
